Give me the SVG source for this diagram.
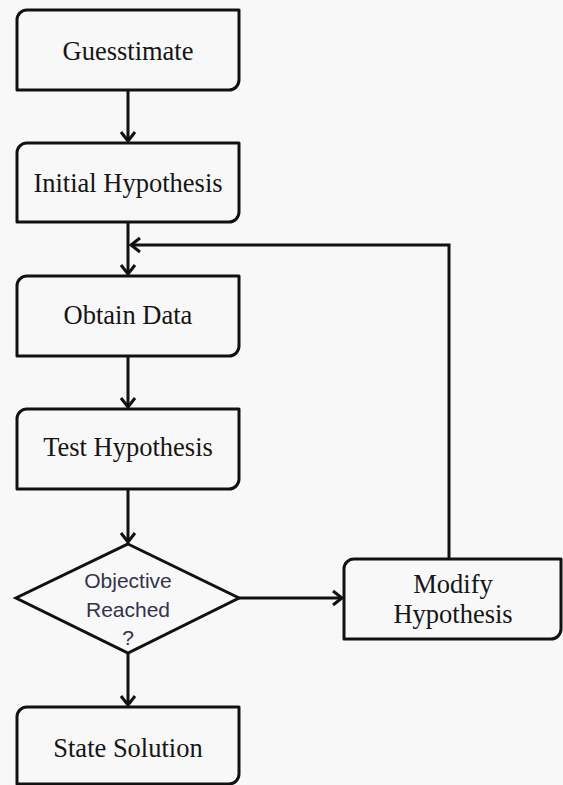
<svg xmlns="http://www.w3.org/2000/svg" width="563" height="785" viewBox="0 0 563 785">
<defs>
<style>
.box{fill:#f8f8f8;stroke:#111;stroke-width:3;stroke-linejoin:round}
.dia{fill:#f8f8f8;stroke:#111;stroke-width:3;stroke-linejoin:miter}
.t{font-family:"Liberation Serif","Times New Roman",serif;font-size:26.5px;fill:#151515;text-anchor:middle}
.s{font-family:"Liberation Sans",Arial,sans-serif;font-size:21px;fill:#33334a;text-anchor:middle}
.c{fill:none;stroke:#111;stroke-width:3}
</style>
<marker id="ah" markerUnits="userSpaceOnUse" markerWidth="20" markerHeight="20" refX="0" refY="0" viewBox="-12 -10 14 20" orient="auto">
<path d="M-9,-7 L0,0 L-9,7" fill="none" stroke="#111" stroke-width="3" stroke-linejoin="miter"/>
</marker>
</defs>
<rect width="563" height="785" fill="#f8f8f8"/>
<g id="connectors">
<path class="c" d="M128,90 V141" marker-end="url(#ah)"/>
<path class="c" d="M128,222 V274" marker-end="url(#ah)"/>
<path class="c" d="M128,356 V407" marker-end="url(#ah)"/>
<path class="c" d="M128,489 V542" marker-end="url(#ah)"/>
<path class="c" d="M128,653 V705" marker-end="url(#ah)"/>
<path class="c" d="M239,598 H342" marker-end="url(#ah)"/>
<path class="c" d="M449,559 V245 H131" marker-end="url(#ah)"/>
</g>
<g id="guesstimate">
<path class="box" d="M27,10 H239 V80 A10,10 0 0 1 229,90 H17 V20 A10,10 0 0 1 27,10 Z"/>
<text class="t" x="128" y="60">Guesstimate</text>
</g>
<g id="initial-hypothesis">
<path class="box" d="M27,143 H239 V212 A10,10 0 0 1 229,222 H17 V153 A10,10 0 0 1 27,143 Z"/>
<text class="t" x="128" y="192">Initial Hypothesis</text>
</g>
<g id="obtain-data">
<path class="box" d="M27,276 H239 V346 A10,10 0 0 1 229,356 H17 V286 A10,10 0 0 1 27,276 Z"/>
<text class="t" x="128" y="324">Obtain Data</text>
</g>
<g id="test-hypothesis">
<path class="box" d="M27,409 H239 V479 A10,10 0 0 1 229,489 H17 V419 A10,10 0 0 1 27,409 Z"/>
<text class="t" x="128" y="456">Test Hypothesis</text>
</g>
<g id="objective-reached">
<path class="dia" d="M128,544 L239,598 L128,653 L16,598 Z"/>
<text class="s" x="128" y="588">Objective</text>
<text class="s" x="128" y="617">Reached</text>
<text class="s" x="128" y="645">?</text>
</g>
<g id="modify-hypothesis">
<path class="box" d="M354,559 H561 V629 A10,10 0 0 1 551,639 H344 V569 A10,10 0 0 1 354,559 Z"/>
<text class="t" x="453" y="593">Modify</text>
<text class="t" x="453" y="623">Hypothesis</text>
</g>
<g id="state-solution">
<path class="box" d="M27,707 H239 V774 A10,10 0 0 1 229,784 H17 V717 A10,10 0 0 1 27,707 Z"/>
<text class="t" x="128" y="757">State Solution</text>
</g>
</svg>
